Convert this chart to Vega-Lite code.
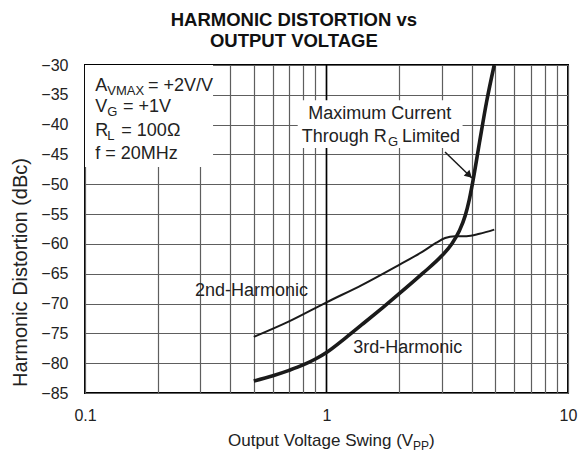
{
  "$schema": "https://vega.github.io/schema/vega-lite/v6.json",
  "width": 483,
  "height": 328,
  "autosize": {"type": "none"},
  "padding": {"left": 85, "top": 65, "right": 10, "bottom": 66},
  "background": "white",
  "title": {
    "text": ["HARMONIC DISTORTION vs", "OUTPUT VOLTAGE"],
    "font": "Liberation Sans",
    "fontSize": 18.5,
    "fontWeight": "bold",
    "lineHeight": 21,
    "anchor": "middle",
    "frame": "bounds",
    "offset": 7,
    "color": "#111111"
  },
  "config": {
    "view": {"stroke": "black", "strokeWidth": 2},
    "font": "Liberation Sans",
    "text": {"font": "Liberation Sans", "color": "#222222"}
  },
  "datasets": {
    "curves": [
      {"x": 0.5, "y": -83.0, "series": "3rd"},
      {"x": 0.6, "y": -82.1, "series": "3rd"},
      {"x": 0.7, "y": -81.2, "series": "3rd"},
      {"x": 0.8, "y": -80.3, "series": "3rd"},
      {"x": 0.9, "y": -79.3, "series": "3rd"},
      {"x": 1.0, "y": -78.2, "series": "3rd"},
      {"x": 1.2, "y": -75.75, "series": "3rd"},
      {"x": 1.4, "y": -73.55, "series": "3rd"},
      {"x": 1.7, "y": -70.75, "series": "3rd"},
      {"x": 2.0, "y": -68.35, "series": "3rd"},
      {"x": 2.5, "y": -64.95, "series": "3rd"},
      {"x": 3.0, "y": -62.0, "series": "3rd"},
      {"x": 3.3, "y": -60.0, "series": "3rd"},
      {"x": 3.55, "y": -57.8, "series": "3rd"},
      {"x": 3.75, "y": -55.3, "series": "3rd"},
      {"x": 3.9, "y": -52.6, "series": "3rd"},
      {"x": 4.05, "y": -49.2, "series": "3rd"},
      {"x": 4.3, "y": -43.0, "series": "3rd"},
      {"x": 4.6, "y": -36.2, "series": "3rd"},
      {"x": 4.95, "y": -30.0, "series": "3rd"},
      {"x": 0.5, "y": -75.6, "series": "2nd"},
      {"x": 0.7, "y": -73.0, "series": "2nd"},
      {"x": 1.0, "y": -69.8, "series": "2nd"},
      {"x": 1.4, "y": -66.9, "series": "2nd"},
      {"x": 2.0, "y": -63.5, "series": "2nd"},
      {"x": 2.5, "y": -61.3, "series": "2nd"},
      {"x": 2.85, "y": -59.8, "series": "2nd"},
      {"x": 3.1, "y": -59.0, "series": "2nd"},
      {"x": 3.4, "y": -58.7, "series": "2nd"},
      {"x": 3.8, "y": -58.7, "series": "2nd"},
      {"x": 4.3, "y": -58.3, "series": "2nd"},
      {"x": 4.95, "y": -57.6, "series": "2nd"}
    ],
    "boxes": [
      {"x": 0.1, "x2": 0.339, "y": -30, "y2": -47.1},
      {"x": 0.76, "x2": 3.66, "y": -35.9, "y2": -43.9}
    ],
    "unity": [{"x": 1, "y": -85, "y2": -30}],
    "arrow": [{"x": 3.095, "x2": 4.0, "y": -44.59, "y2": -48.95}],
    "arrowhead": [{"x": 3.9, "y": -48.49}],
    "labels": [
      {"x": 0.1103, "y": -34.31, "t": "A", "k": "m"},
      {"x": 0.1237, "y": -34.31, "t": "VMAX", "k": "s"},
      {"x": 0.1823, "y": -34.31, "t": "= +2V/V", "k": "m"},
      {"x": 0.1103, "y": -37.93, "t": "V", "k": "m"},
      {"x": 0.1237, "y": -37.93, "t": "G", "k": "s"},
      {"x": 0.1437, "y": -37.93, "t": "= +1V", "k": "m"},
      {"x": 0.1103, "y": -41.85, "t": "R", "k": "m"},
      {"x": 0.1237, "y": -41.85, "t": "L", "k": "s"},
      {"x": 0.1414, "y": -41.85, "t": "= 100Ω", "k": "m"},
      {"x": 0.1103, "y": -45.81, "t": "f = 20MHz", "k": "m"},
      {"x": 0.8406, "y": -39.1, "t": "Maximum Current", "k": "m"},
      {"x": 0.7897, "y": -42.86, "t": "Through R", "k": "m"},
      {"x": 1.798, "y": -42.86, "t": "G", "k": "s"},
      {"x": 2.054, "y": -42.86, "t": "Limited", "k": "m"},
      {"x": 0.2854, "y": -68.73, "t": "2nd-Harmonic", "k": "m"},
      {"x": 1.291, "y": -78.34, "t": "3rd-Harmonic", "k": "m"},
      {"x": 0.3909, "y": -93.88, "t": "Output Voltage Swing (V", "k": "tm"},
      {"x": 2.282, "y": -93.88, "t": "PP", "k": "ts"},
      {"x": 2.658, "y": -93.88, "t": ")", "k": "tm"}
    ]
  },
  "encoding": {
    "x": {
      "field": "x",
      "type": "quantitative",
      "scale": {"type": "log", "domain": [0.1, 10], "nice": false},
      "axis": {
        "values": [0.1, 0.2, 0.3, 0.4, 0.5, 0.6, 0.7, 0.8, 0.9, 1, 2, 3, 4, 5, 6, 7, 8, 9, 10],
        "format": "~g",
        "labelExpr": "(datum.value == 0.1 || datum.value == 1 || datum.value == 10) ? datum.label : ''",
        "title": null,
        "grid": true,
        "gridColor": "#5e5e5e",
        "gridWidth": 1.2,
        "ticks": false,
        "domain": false,
        "labelFontSize": 16,
        "labelPadding": 14,
        "labelColor": "#222222",
        "labelFlush": false,
        "labelOverlap": false
      }
    },
    "y": {
      "field": "y",
      "type": "quantitative",
      "scale": {"domain": [-85, -30], "nice": false, "zero": false},
      "axis": {
        "values": [-85, -80, -75, -70, -65, -60, -55, -50, -45, -40, -35, -30],
        "title": "Harmonic Distortion (dBc)",
        "titleFontSize": 20,
        "titleFontWeight": "normal",
        "titleColor": "#222222",
        "titlePadding": 10,
        "titleY": 207,
        "grid": true,
        "gridColor": "#5e5e5e",
        "gridWidth": 1.2,
        "ticks": false,
        "domain": false,
        "labelFontSize": 16,
        "labelPadding": 17,
        "labelColor": "#222222"
      }
    }
  },
  "layer": [
    {
      "data": {"name": "unity"},
      "mark": {"type": "rule", "color": "black", "strokeWidth": 1.6},
      "encoding": {"y2": {"field": "y2"}}
    },
    {
      "data": {"name": "boxes"},
      "mark": {"type": "rect", "color": "white", "opacity": 1},
      "encoding": {"x2": {"field": "x2"}, "y2": {"field": "y2"}}
    },
    {
      "data": {"name": "curves"},
      "transform": [{"filter": "datum.series == '2nd'"}],
      "mark": {"type": "line", "color": "#1a1a1a", "strokeWidth": 2, "interpolate": "monotone"},
      "encoding": {}
    },
    {
      "data": {"name": "curves"},
      "transform": [{"filter": "datum.series == '3rd'"}],
      "mark": {"type": "line", "color": "#1a1a1a", "strokeWidth": 3.6, "interpolate": "monotone"},
      "encoding": {}
    },
    {
      "data": {"name": "arrow"},
      "mark": {"type": "rule", "color": "#1a1a1a", "strokeWidth": 1.5},
      "encoding": {"x2": {"field": "x2"}, "y2": {"field": "y2"}}
    },
    {
      "data": {"name": "arrowhead"},
      "mark": {"type": "point", "shape": "triangle-up", "filled": true, "color": "#1a1a1a", "size": 70, "angle": 133, "opacity": 1},
      "encoding": {}
    },
    {
      "data": {"name": "labels"},
      "transform": [{"filter": "datum.k == 'm'"}],
      "mark": {"type": "text", "align": "left", "baseline": "alphabetic", "fontSize": 18},
      "encoding": {"text": {"field": "t"}}
    },
    {
      "data": {"name": "labels"},
      "transform": [{"filter": "datum.k == 's'"}],
      "mark": {"type": "text", "align": "left", "baseline": "alphabetic", "fontSize": 13, "dy": 4},
      "encoding": {"text": {"field": "t"}}
    },
    {
      "data": {"name": "labels"},
      "transform": [{"filter": "datum.k == 'tm'"}],
      "mark": {"type": "text", "align": "left", "baseline": "alphabetic", "fontSize": 17},
      "encoding": {"text": {"field": "t"}}
    },
    {
      "data": {"name": "labels"},
      "transform": [{"filter": "datum.k == 'ts'"}],
      "mark": {"type": "text", "align": "left", "baseline": "alphabetic", "fontSize": 12, "dy": 4},
      "encoding": {"text": {"field": "t"}}
    }
  ]
}
